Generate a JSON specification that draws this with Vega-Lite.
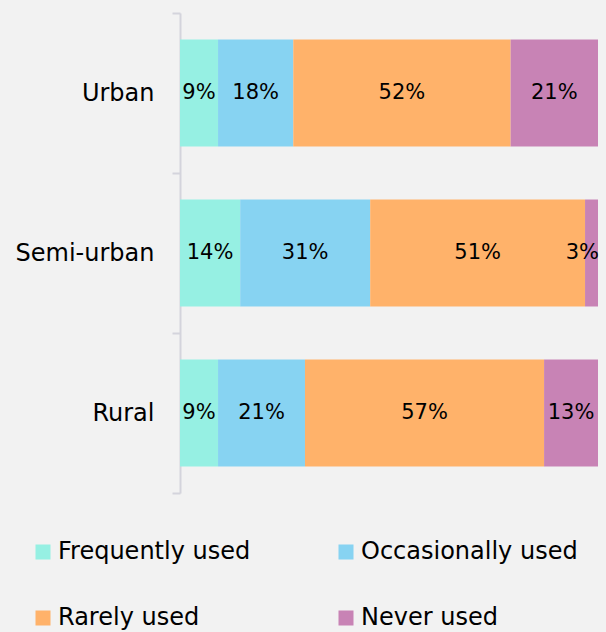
{
  "$schema": "https://vega.github.io/schema/vega-lite/v6.json",
  "autosize": "none",
  "width": 418,
  "height": 480,
  "padding": {"left": 180, "top": 13, "right": 8, "bottom": 139},
  "background": "#f2f2f2",
  "config": {
    "view": {"stroke": null},
    "font": "DejaVu Sans",
    "text": {"font": "DejaVu Sans"}
  },
  "data": {
    "values": [
      {"area": "Urban", "usage": "Frequently used", "k": 1, "value": 9.1, "label": "9%"},
      {"area": "Urban", "usage": "Occasionally used", "k": 2, "value": 18.0, "label": "18%"},
      {"area": "Urban", "usage": "Rarely used", "k": 3, "value": 52.0, "label": "52%"},
      {"area": "Urban", "usage": "Never used", "k": 4, "value": 20.9, "label": "21%"},
      {"area": "Semi-urban", "usage": "Frequently used", "k": 1, "value": 14.4, "label": "14%"},
      {"area": "Semi-urban", "usage": "Occasionally used", "k": 2, "value": 31.1, "label": "31%"},
      {"area": "Semi-urban", "usage": "Rarely used", "k": 3, "value": 51.4, "label": "51%"},
      {"area": "Semi-urban", "usage": "Never used", "k": 4, "value": 3.1, "label": "3%"},
      {"area": "Rural", "usage": "Frequently used", "k": 1, "value": 9.1, "label": "9%"},
      {"area": "Rural", "usage": "Occasionally used", "k": 2, "value": 20.8, "label": "21%"},
      {"area": "Rural", "usage": "Rarely used", "k": 3, "value": 57.2, "label": "57%"},
      {"area": "Rural", "usage": "Never used", "k": 4, "value": 12.9, "label": "13%"}
    ]
  },
  "transform": [
    {"stack": "value", "groupby": ["area"], "sort": [{"field": "k"}], "as": ["x0", "x1"]},
    {"calculate": "(datum.x0 + datum.x1) / 2", "as": "xmid"}
  ],
  "encoding": {
    "y": {
      "field": "area",
      "type": "nominal",
      "sort": ["Urban", "Semi-urban", "Rural"],
      "scale": {"paddingInner": 0, "paddingOuter": 0},
      "axis": {
        "title": null,
        "tickBand": "extent",
        "domainColor": "#d4d4dc",
        "domainWidth": 2,
        "tickColor": "#d4d4dc",
        "tickWidth": 2,
        "tickSize": 8,
        "labelPadding": 18,
        "labelFontSize": 24,
        "labelColor": "#000000",
        "labelFont": "DejaVu Sans"
      }
    }
  },
  "layer": [
    {
      "mark": {"type": "bar", "height": {"band": 0.67}},
      "encoding": {
        "x": {"field": "x0", "type": "quantitative", "scale": {"domain": [0, 100]}, "axis": null},
        "x2": {"field": "x1"},
        "color": {
          "field": "usage",
          "type": "nominal",
          "scale": {
            "domain": ["Frequently used", "Occasionally used", "Rarely used", "Never used"],
            "range": ["#96f0e3", "#87d3f2", "#ffb26a", "#c883b5"]
          },
          "legend": {
            "title": null,
            "orient": "none",
            "legendX": -149,
            "legendY": 527,
            "columns": 2,
            "direction": "horizontal",
            "symbolType": "square",
            "symbolSize": 225,
            "symbolStrokeWidth": 0,
            "labelFontSize": 24,
            "labelColor": "#000000",
            "labelFont": "DejaVu Sans",
            "labelOffset": 3,
            "labelLimit": 400,
            "columnPadding": 83,
            "rowPadding": 42,
            "padding": 0
          }
        }
      }
    },
    {
      "transform": [{"filter": "datum.xmid <= 95"}],
      "mark": {"type": "text", "fontSize": 21, "color": "#000000", "align": "center", "baseline": "middle"},
      "encoding": {
        "x": {"field": "xmid", "type": "quantitative"},
        "text": {"field": "label"}
      }
    },
    {
      "transform": [{"filter": "datum.xmid > 95"}],
      "mark": {"type": "text", "fontSize": 21, "color": "#000000", "align": "right", "baseline": "middle", "dx": 1},
      "encoding": {
        "x": {"field": "x1", "type": "quantitative"},
        "text": {"field": "label"}
      }
    }
  ]
}
